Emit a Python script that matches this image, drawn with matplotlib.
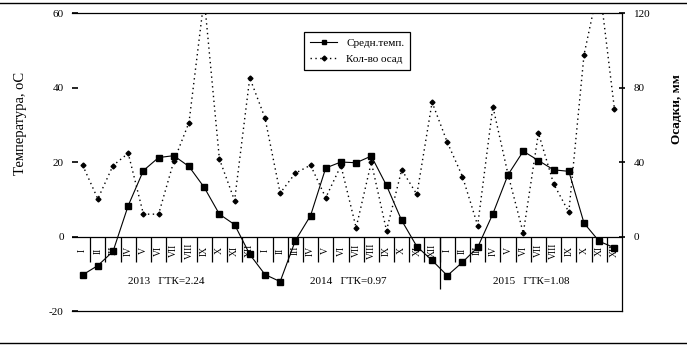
import matplotlib
matplotlib.use("Agg")
from matplotlib import pyplot as plt
from matplotlib.lines import Line2D

plt.rcParams['font.family'] = ['Liberation Serif', 'DejaVu Serif']
plt.rcParams['axes.unicode_minus'] = False

months = ['I', 'II', 'III', 'IV', 'V', 'VI', 'VII', 'VIII', 'IX', 'X', 'XI', 'XII']
years = ['2013   ГТК=2.24', '2014   ГТК=0.97', '2015   ГТК=1.08']

# средняя температура, оС (2013, 2014, 2015 по месяцам)
temp = [-10.3, -7.8, -4.0, 8.3, 17.7, 21.2, 21.7, 18.8, 13.2, 6.0, 3.2, -4.8,
        -10.2, -12.1, -1.1, 5.6, 18.4, 20.0, 19.8, 21.6, 13.7, 4.3, -2.7, -6.4,
        -10.5, -6.9, -2.9, 6.1, 16.6, 22.9, 20.4, 17.9, 17.5, 3.6, -1.3, -3.0]
# количество осадков, мм
prec = [38.3, 20.2, 38.1, 44.7, 12.0, 12.0, 40.4, 61.2, 128.0, 41.7, 19.3, 85.2,
        63.7, 23.3, 34.0, 38.3, 20.8, 38.1, 4.7, 39.9, 3.2, 35.8, 22.6, 72.1,
        50.6, 32.2, 5.9, 69.8, 33.3, 1.8, 55.5, 28.3, 13.1, 97.6, 136.0, 68.6]

x = list(range(len(temp)))

fig = plt.figure(figsize=(6.87, 3.47), dpi=100)
ax = fig.add_axes([0.1048, 0.1037, 0.8006, 0.8588])
ax2 = ax.twinx()

ax.set_xlim(-0.7, 35.5)
ax.set_ylim(-20, 60)
ax2.set_ylim(-40, 120)

ax.plot(x, temp, color='black', lw=0.8, marker='s', ms=4, label='Средн.темп.')
ax2.plot(x, prec, color='black', lw=1.0, ls=(0, (1, 2.5)), marker='D', ms=2.5,
         label='Кол-во осад')

# рамка: верх, низ, правая сторона, левой нет
ax.spines['left'].set_visible(False)
for s in ax2.spines.values():
    s.set_visible(False)
for name in ['top', 'bottom', 'right']:
    ax.spines[name].set_linewidth(0.9)

ax.axhline(0, color='black', lw=0.9)
ax.set_xticks([])
ax.set_yticks([-20, 0, 20, 40, 60])
ax.tick_params(axis='y', direction='in', length=4, width=1.2, labelsize=8, pad=6)
ax2.set_yticks([0, 40, 80, 120])
ax2.tick_params(axis='y', direction='inout', length=5, width=1.2, labelsize=8, pad=6)

# подписи месяцев и разделители
for i in x:
    ax.text(i, -3.8, months[i % 12], rotation=90, ha='center', va='center', fontsize=7)
bounds = [i + 0.5 for i in range(35)]
ax.vlines(bounds, -6.9, 0, color='black', lw=0.9)
ax.vlines([23.5], -14, 0, color='black', lw=0.9)
for k, lab in enumerate(years):
    ax.text(12 * k + 5.5, -12.1, lab, ha='center', va='center', fontsize=8)

fig.text(0.03, 0.643, 'Температура, оС', rotation=90, ha='center', va='center', fontsize=10.5)
fig.text(0.986, 0.686, 'Осадки, мм', rotation=90, ha='center', va='center',
         fontsize=9.5, fontweight='bold')

handles = [Line2D([], [], color='black', lw=0.8, marker='s', ms=3.5),
           Line2D([], [], color='black', lw=1.0, ls=(0, (1, 2.5)), marker='D', ms=2.5)]
leg = ax.legend(handles, ['Средн.темп.', 'Кол-во осад'], loc='upper left',
                bbox_to_anchor=(0.422, 0.935), borderaxespad=0, fontsize=8,
                fancybox=False, framealpha=1, edgecolor='black',
                handlelength=2.5, labelspacing=0.6, borderpad=0.5)
leg.get_frame().set_linewidth(0.9)

# линии рамки листа
fig.add_artist(Line2D([0, 1], [1 - 3 / 347, 1 - 3 / 347], color='black', lw=1.0))
fig.add_artist(Line2D([0, 1], [1 - 343 / 347, 1 - 343 / 347], color='black', lw=1.0))

fig.savefig('out.png', dpi=100)
